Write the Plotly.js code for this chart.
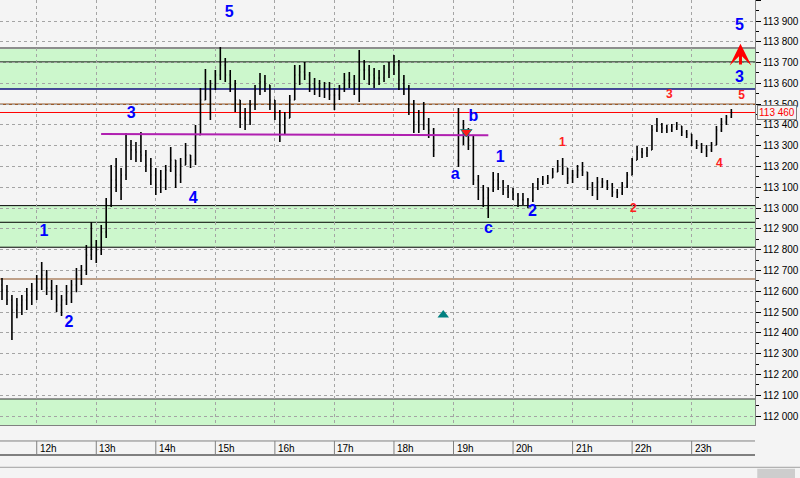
<!DOCTYPE html>
<html><head><meta charset="utf-8">
<script src="https://cdn.plot.ly/plotly-3.0.1.min.js"></script>
<style>html,body{margin:0;padding:0;background:#f4f4f4;}#chart{width:800px;height:478px;}</style>
</head><body><div id="chart"></div>
<script>
// ---- time structure (hours) ----
const sessionStarts = [11 + 25/60, 19 + 5/60];
const sessionLengths = [88, 56];
const barMinutes = 5;

// ---- price data (5-minute bars) ----
const openP = [
112.630,112.606,112.558,112.510,112.534,112.558,112.582,112.606,112.645,112.678,
112.616,112.596,112.534,112.558,112.592,112.630,112.678,112.702,112.774,112.823,
112.798,112.885,113.015,113.135,113.111,113.159,113.304,113.280,113.270,113.255,
113.207,113.159,113.111,113.135,113.183,113.231,113.159,113.207,113.255,113.231,
113.352,113.520,113.568,113.592,113.640,113.688,113.640,113.592,113.520,113.433,
113.424,113.496,113.568,113.607,113.592,113.520,113.462,113.400,113.433,113.520,
113.640,113.655,113.640,113.592,113.578,113.568,113.568,113.544,113.544,113.578,
113.616,113.616,113.578,113.664,113.664,113.640,113.626,113.626,113.655,113.664,
113.688,113.616,113.578,113.496,113.414,113.400,113.400,113.376,
113.231,113.376,113.366,113.328,113.135,113.087,113.049,113.087,113.135,113.126,
113.087,113.077,113.063,113.039,113.039,113.039,113.097,113.126,113.135,113.145,
113.174,113.207,113.193,113.145,113.159,113.183,113.174,113.111,113.087,113.126,
113.126,113.111,113.077,113.073,113.106,113.159,113.231,113.270,113.265,113.280,
113.376,113.400,113.385,113.376,113.390,113.395,113.366,113.356,113.318,113.304,
113.289,113.280,113.304,113.376,113.414,113.438];
const highP = [
112.664,112.630,112.582,112.568,112.582,112.616,112.640,112.678,112.741,112.702,
112.654,112.630,112.582,112.630,112.654,112.712,112.726,112.823,112.933,112.847,
112.919,113.049,113.207,113.241,113.193,113.361,113.328,113.318,113.366,113.280,
113.241,113.193,113.183,113.207,113.294,113.231,113.241,113.313,113.255,113.400,
113.578,113.669,113.616,113.664,113.775,113.722,113.664,113.616,113.520,113.481,
113.520,113.592,113.650,113.640,113.592,113.520,113.472,113.462,113.544,113.688,
113.688,113.703,113.655,113.626,113.616,113.607,113.607,113.578,113.592,113.650,
113.655,113.640,113.760,113.712,113.688,113.674,113.664,113.688,113.703,113.736,
113.712,113.640,113.592,113.520,113.472,113.510,113.433,113.385,
113.481,113.424,113.385,113.352,113.159,113.111,113.100,113.174,113.169,113.135,
113.111,113.097,113.073,113.073,113.049,113.121,113.145,113.154,113.159,113.193,
113.231,113.241,113.193,113.183,113.207,113.222,113.174,113.126,113.150,113.145,
113.135,113.121,113.092,113.126,113.174,113.241,113.299,113.289,113.294,113.400,
113.433,113.409,113.400,113.405,113.414,113.395,113.376,113.356,113.328,113.313,
113.304,113.318,113.395,113.433,113.448,113.477];
const lowP = [
112.558,112.534,112.366,112.471,112.486,112.510,112.534,112.558,112.606,112.582,
112.558,112.500,112.481,112.534,112.544,112.596,112.630,112.678,112.750,112.736,
112.774,112.856,113.005,113.077,113.039,113.135,113.231,113.222,113.222,113.174,
113.111,113.063,113.073,113.087,113.174,113.097,113.121,113.207,113.193,113.207,
113.352,113.520,113.424,113.568,113.616,113.607,113.558,113.462,113.385,113.376,
113.400,113.472,113.544,113.558,113.472,113.424,113.318,113.352,113.433,113.520,
113.592,113.616,113.558,113.544,113.534,113.530,113.520,113.472,113.520,113.558,
113.578,113.544,113.510,113.616,113.592,113.578,113.592,113.607,113.626,113.640,
113.568,113.544,113.448,113.361,113.361,113.376,113.337,113.246,
113.198,113.304,113.280,113.111,113.039,113.005,112.952,113.077,113.087,113.063,
113.049,113.039,113.005,113.015,113.000,113.029,113.087,113.111,113.116,113.145,
113.174,113.159,113.116,113.121,113.145,113.154,113.087,113.058,113.039,113.097,
113.087,113.053,113.049,113.063,113.097,113.159,113.231,113.241,113.246,113.280,
113.366,113.361,113.361,113.366,113.376,113.347,113.337,113.299,113.284,113.265,
113.246,113.270,113.304,113.366,113.400,113.433];
const closeP = [
112.606,112.558,112.510,112.534,112.558,112.582,112.606,112.645,112.678,112.616,
112.596,112.534,112.558,112.592,112.630,112.678,112.702,112.774,112.823,112.798,
112.885,113.015,113.135,113.111,113.159,113.304,113.280,113.270,113.255,113.207,
113.159,113.111,113.135,113.183,113.231,113.159,113.207,113.255,113.231,113.352,
113.520,113.568,113.592,113.640,113.688,113.640,113.592,113.520,113.433,113.424,
113.496,113.568,113.607,113.592,113.520,113.462,113.400,113.433,113.520,113.640,
113.655,113.640,113.592,113.578,113.568,113.568,113.544,113.544,113.578,113.616,
113.616,113.578,113.664,113.664,113.640,113.626,113.626,113.655,113.664,113.688,
113.616,113.578,113.496,113.414,113.400,113.400,113.376,113.280,
113.376,113.366,113.328,113.135,113.087,113.049,113.087,113.135,113.126,113.087,
113.077,113.063,113.039,113.039,113.039,113.097,113.126,113.135,113.145,113.174,
113.207,113.193,113.145,113.159,113.183,113.174,113.111,113.087,113.126,113.126,
113.111,113.077,113.073,113.106,113.159,113.231,113.270,113.265,113.280,113.376,
113.400,113.385,113.376,113.390,113.395,113.366,113.356,113.318,113.304,113.289,
113.280,113.304,113.376,113.414,113.438,113.460];

// ---- horizontal levels ----
const upperBand = [113.573, 113.770];
const upperBandMid = 113.703;
const lowerBand = [112.812, 113.012];
const lowerBandMid = 112.932;
const bottomBandTop = 112.082;
const brownLevel = 113.500;
const tanLevel = 112.659;
const lastPrice = 113.460;
const magentaLine = {x: [13.081, 19.585], y: [113.357, 113.350]};

// ---- axis ticks ----
const hourTicks = [12,13,14,15,16,17,18,19,20,21,22,23];
const hourLabels = ['12h','13h','14h','15h','16h','17h','18h','19h','20h','21h','22h','23h'];

// ---- wave labels ----
const blueWaveText = ['1','2','3','4','5','a','b','c','1','2','3','5'];
const blueWaveX = [12.122,12.543,13.585,14.627,15.232,19.030,19.333,19.585,19.786,20.324,23.803,23.803];
const blueWaveY = [112.885,112.448,113.453,113.044,113.938,113.159,113.438,112.900,113.241,112.981,113.626,113.876];
const redWaveText = ['1','2','3','4','5'];
const redWaveX = [20.828,22.022,22.627,23.467,23.837];
const redWaveY = [113.313,112.996,113.544,113.212,113.539];
const arrowX = 23.820, arrowFrom = 113.684, arrowTo = 113.790;
const tealMark = {x: [18.828], y: [112.486]};
const redMark = {x: [19.215], y: [113.366]};

// build time axis
const times = [];
sessionStarts.forEach((s, k) => {
  for (let i = 0; i < sessionLengths[k]; i++) times.push(s + i * barMinutes / 60);
});

const traces = [
  {type:'ohlc', x: times, open: openP, high: highP, low: lowP, close: closeP,
   increasing:{line:{color:'#000', width:1.6}}, decreasing:{line:{color:'#000', width:1.6}},
   tickwidth:0.18, hoverinfo:'skip', showlegend:false},
  {type:'scatter', mode:'lines', x: magentaLine.x, y: magentaLine.y,
   line:{color:'#b020b0', width:2}, hoverinfo:'skip'},
  {type:'scatter', mode:'markers', x: tealMark.x, y: tealMark.y,
   marker:{symbol:'triangle-up', size:10, color:'#008080'}, hoverinfo:'skip'},
  {type:'scatter', mode:'markers', x: redMark.x, y: redMark.y,
   marker:{symbol:'triangle-down', size:10, color:'#ff1a1a', line:{color:'#008080', width:0.8}}, hoverinfo:'skip'},
  {type:'scatter', mode:'text', x: blueWaveX, y: blueWaveY, text: blueWaveText,
   textfont:{family:'Liberation Sans, Arial, sans-serif', size:16, color:'#0000ff', weight:'bold'},
   textposition:'middle center', cliponaxis:false, hoverinfo:'skip'},
  {type:'scatter', mode:'text', x: redWaveX, y: redWaveY, text: redWaveText,
   textfont:{family:'Liberation Sans, Arial, sans-serif', size:12, color:'#ff2020', weight:'bold'},
   textposition:'middle center', cliponaxis:false, hoverinfo:'skip'}
];

function hline(y, color, width) {
  return {type:'line', xref:'paper', x0:0, x1:1, yref:'y', y0:y, y1:y, line:{color:color, width:width}, layer:'between'};
}
function band(y0, y1) {
  return {type:'rect', xref:'paper', x0:0, x1:1, yref:'y', y0:y0, y1:y1, fillcolor:'#ccf7cc', line:{width:0}, layer:'below'};
}
const shapes = [
  band(upperBand[0], upperBand[1]),
  band(lowerBand[0], lowerBand[1]),
  band(111.9, bottomBandTop),
  hline(upperBand[1], '#8c8c8c', 2),
  hline(upperBandMid, '#000', 1),
  hline(upperBand[0], '#101080', 1.6),
  hline(brownLevel, '#9a5a2a', 1.5),
  hline(lastPrice, '#ff0000', 1),
  hline(lowerBand[1], '#000', 1),
  hline(lowerBandMid, '#000', 1),
  hline(lowerBand[0], '#000', 1),
  hline(tanLevel, '#bfa088', 2),
  hline(bottomBandTop, '#303030', 1),
  // time panel
  {type:'line', xref:'paper', yref:'paper', x0:0, x1:1, y0:-0.0376, y1:-0.0376, line:{color:'#808080', width:1}},
  {type:'line', xref:'paper', yref:'paper', x0:0, x1:1, y0:-0.0706, y1:-0.0706, line:{color:'#808080', width:2}},
  {type:'line', xref:'paper', yref:'paper', x0:0, x1:1.06, y0:-0.0995, y1:-0.0995, line:{color:'#a0a0a0', width:1}},
  {type:'rect', xref:'paper', yref:'paper', x0:1.003, x1:1.053, y0:-0.103, y1:-0.13, fillcolor:'#cdcdcd', line:{width:0}}
];
hourTicks.forEach(h => shapes.push({type:'line', xref:'x', yref:'paper', x0:h, x1:h, y0:-0.0376, y1:-0.0706, line:{color:'#808080', width:1}}));

const annotations = hourTicks.map((h, i) => ({
  x: h, xref:'x', y: -0.0555, yref:'paper', text: hourLabels[i], showarrow:false,
  xanchor:'left', yanchor:'middle', xshift:1, font:{size:10, color:'#000'}
}));
annotations.push({x: arrowX, y: arrowTo, ax: arrowX, ay: arrowFrom, xref:'x', yref:'y', axref:'x', ayref:'y',
  text:'', showarrow:true, arrowhead:3, arrowsize:1.2, arrowwidth:3, arrowcolor:'#ff0000'});
annotations.push({x: 1.003, xref:'paper', y: lastPrice, yref:'y', text: lastPrice.toFixed(3).replace('.', ' '),
  showarrow:false, xanchor:'left', yanchor:'middle', bgcolor:'#f4f4f4', bordercolor:'#808080', borderwidth:1, borderpad:1,
  font:{size:10, color:'#ff0000'}});

const layout = {
  width: 800, height: 478,
  margin: {l:0, r:45, t:0, b:53, pad:0},
  paper_bgcolor:'#f4f4f4', plot_bgcolor:'#f4f4f4',
  showlegend:false,
  separators:' ,',
  font:{family:'Liberation Sans, Arial, sans-serif', size:10, color:'#000'},
  xaxis:{range:[11.383, 24.064], tickvals: hourTicks, showticklabels:false, ticks:'',
    showgrid:true, gridcolor:'#a4a4a4', griddash:'3px,3px', gridwidth:1, zeroline:false,
    showline:true, linecolor:'#808080', linewidth:1, rangeslider:{visible:false}, fixedrange:true},
  yaxis:{side:'right', range:[111.957, 114.001], tick0:112, dtick:0.1, tickformat:'.3f',
    ticks:'outside', ticklen:5, tickcolor:'#000', showgrid:true, gridcolor:'#a4a4a4', griddash:'3px,3px',
    zeroline:false, showline:true, linecolor:'#808080', linewidth:1, fixedrange:true,
    minor:{dtick:0.05, tick0:112, ticks:'outside', ticklen:3, tickcolor:'#000', showgrid:false},
    tickfont:{size:10, color:'#000'}},
  shapes: shapes,
  annotations: annotations
};

Plotly.newPlot('chart', traces, layout, {staticPlot:true, displayModeBar:false});
</script></body></html>
